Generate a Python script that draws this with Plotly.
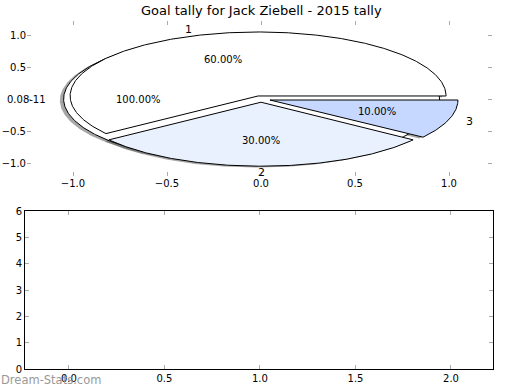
import numpy as np
import plotly.graph_objects as go

# ---- data ----
slice_labels = ["1", "2", "3"]
slice_values = [60, 30, 10]
slice_colors = ["#ffffff", "#eaf1fe", "#c6d8ff"]
full_labels = [""]
full_values = [100]
explode = 0.05

title_text = "Goal tally for Jack Ziebell - 2015 tally"
top_xticks = [-1.0, -0.5, 0.0, 0.5, 1.0]
top_xtick_text = ["\u22121.0", "\u22120.5", "0.0", "0.5", "1.0"]
top_yticks = [-1.0, -0.5, 0.0, 0.5, 1.0]
top_ytick_text = ["\u22121.0", "\u22120.5", "", "0.5", "1.0"]
odd_ytick_value = 0.0
odd_ytick_text = "0.08-11"
bot_xticks = [0.0, 0.5, 1.0, 1.5, 2.0]
bot_xtick_text = ["0.0", "0.5", "1.0", "1.5", "2.0"]
bot_yticks = [0, 1, 2, 3, 4, 5, 6]

W, H = 520, 390
FONT = "DejaVu Sans"


def wedges(values, start=0.0):
    total = float(sum(values))
    out = []
    t1 = start
    for v in values:
        t2 = t1 + 360.0 * v / total
        out.append((t1, t2))
        t1 = t2
    return out


def wedge_path(t1, t2, e):
    mid = np.deg2rad((t1 + t2) / 2)
    cx, cy = e * np.cos(mid), e * np.sin(mid)
    th = np.deg2rad(np.linspace(t1, t2, max(int(abs(t2 - t1)) * 2, 20)))
    xs = list(cx + np.cos(th))
    ys = list(cy + np.sin(th))
    if abs((t2 - t1) - 360) > 1e-9:
        xs = [cx] + xs + [cx]
        ys = [cy] + ys + [cy]
    return xs, ys, cx, cy, mid


fig = go.Figure()

all_pies = [(full_values, ["#ffffff"]), (slice_values, slice_colors)]

# shadows first
for vals, cols in all_pies:
    for (t1, t2) in wedges(vals):
        xs, ys, cx, cy, mid = wedge_path(t1, t2, explode)
        fig.add_trace(go.Scatter(
            x=[x - 0.02 for x in xs], y=[y - 0.02 for y in ys],
            mode="lines", fill="toself", fillcolor="rgba(77,77,77,0.5)",
            line=dict(width=0), hoverinfo="skip", showlegend=False,
            xaxis="x", yaxis="y"))

annotations = []
pct_distance = 0.6
for pi, (vals, cols) in enumerate(all_pies):
    labs = full_labels if pi == 0 else slice_labels
    total = float(sum(vals))
    for i, (t1, t2) in enumerate(wedges(vals)):
        xs, ys, cx, cy, mid = wedge_path(t1, t2, explode)
        fig.add_trace(go.Scatter(
            x=xs, y=ys, mode="lines", fill="toself", fillcolor=cols[i],
            line=dict(color="black", width=1), hoverinfo="skip",
            showlegend=False, xaxis="x", yaxis="y"))
        # label
        lx = cx + 1.1 * np.cos(mid)
        ly = cy + 1.1 * np.sin(mid)
        if labs[i]:
            if abs(lx) < 0.05:
                xa = "center"
            else:
                xa = "left" if lx > 0 else "right"
            annotations.append(dict(
                x=lx, y=ly, xref="x", yref="y", text=labs[i],
                showarrow=False, xanchor=xa, yanchor="middle",
                xshift=-3 if lx > 0.05 else 0,
                font=dict(family=FONT, size=11, color="black")))
        px_ = cx + pct_distance * np.cos(mid)
        py_ = cy + pct_distance * np.sin(mid)
        annotations.append(dict(
            x=px_, y=py_, xref="x", yref="y",
            text="%.2f%%" % (100.0 * vals[i] / total),
            showarrow=False, xanchor="center", yanchor="middle",
            font=dict(family=FONT, size=10, color="black")))

# odd y tick label of the top axes
annotations.append(dict(
    x=5 / W, y=odd_ytick_value, xref="paper", yref="y", text=odd_ytick_text,
    showarrow=False, xanchor="left", yanchor="middle",
    font=dict(family=FONT, size=10, color="black")))

# empty lower axes
fig.add_trace(go.Scatter(x=[], y=[], mode="markers", showlegend=False,
                         xaxis="x2", yaxis="y2"))

annotations.append(dict(
    x=261 / W, y=1 - 10 / H, xref="paper", yref="paper", text=title_text,
    showarrow=False, xanchor="center", yanchor="middle",
    font=dict(family=FONT, size=13, color="black")))
annotations.append(dict(
    x=-1 / W, y=1 - 380 / H, xref="paper", yref="paper", text="Dream-Stats.com",
    showarrow=False, xanchor="left", yanchor="middle",
    font=dict(family=FONT, size=11.5, color="#999999")))

tick_common = dict(ticks="inside", ticklen=4, tickwidth=1, tickcolor="#aaaaaa",
                   showgrid=False, zeroline=False, automargin=False,
                   tickfont=dict(family=FONT, size=10, color="black"))

fig.update_layout(
    template="none",
    width=W, height=H, margin=dict(l=0, r=0, t=0, b=0, pad=0),
    paper_bgcolor="white", plot_bgcolor="white",
    annotations=annotations,
    xaxis=dict(domain=[27 / W, 492 / W], range=[-1.2447, 1.2287],
               tickmode="array", tickvals=top_xticks, ticktext=top_xtick_text,
               showline=False, mirror="ticks", anchor="y", **tick_common),
    yaxis=dict(domain=[(H - 176) / H, (H - 21) / H], range=[-1.203, 1.219],
               tickmode="array", tickvals=top_yticks, ticktext=top_ytick_text,
               showline=False, mirror="ticks", anchor="x", **tick_common),
    xaxis2=dict(domain=[25 / W, 493 / W], range=[-0.230, 2.220],
                tickmode="array", tickvals=bot_xticks, ticktext=bot_xtick_text,
                showline=True, linecolor="black", linewidth=1, mirror="ticks",
                anchor="y2", **tick_common),
    yaxis2=dict(domain=[(H - 369) / H, (H - 211) / H], range=[0, 6],
                tickmode="array", tickvals=bot_yticks,
                ticktext=[str(v) for v in bot_yticks],
                showline=True, linecolor="black", linewidth=1, mirror="ticks",
                anchor="x2", **tick_common),
)

fig.write_html("out.html",
               config={"displayModeBar": False},
               post_script="document.body.style.margin='0';"
                           "document.body.style.overflow='hidden';")
